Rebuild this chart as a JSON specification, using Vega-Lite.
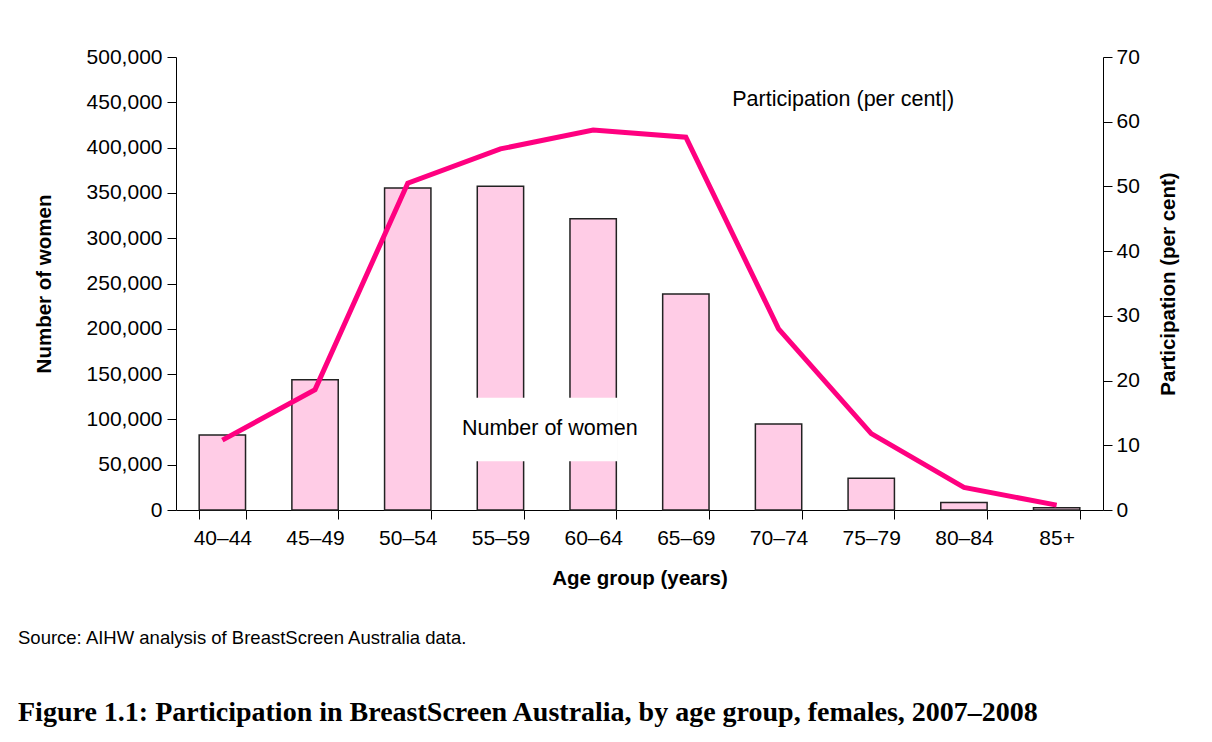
{
  "$schema": "https://vega.github.io/schema/vega-lite/v6.json",
  "width": 927,
  "height": 453,
  "autosize": {"type": "none"},
  "padding": {"left": 176, "top": 57, "right": 109, "bottom": 232},
  "background": "white",
  "config": {
    "view": {"stroke": null},
    "font": "Liberation Sans",
    "axis": {
      "domainColor": "black",
      "tickColor": "black",
      "labelColor": "black",
      "titleColor": "black",
      "labelFont": "Liberation Sans",
      "titleFont": "Liberation Sans",
      "labelFontSize": 21,
      "titleFontSize": 20.5,
      "titleFontWeight": "bold",
      "grid": false,
      "tickSize": 9
    }
  },
  "data": {
    "values": [
      {"age": "40–44", "women": 82800, "participation": 10.8},
      {"age": "45–49", "women": 143900, "participation": 18.6},
      {"age": "50–54", "women": 355400, "participation": 50.5},
      {"age": "55–59", "women": 357300, "participation": 55.8},
      {"age": "60–64", "women": 321600, "participation": 58.7},
      {"age": "65–69", "women": 238400, "participation": 57.6},
      {"age": "70–74", "women": 94900, "participation": 28.0},
      {"age": "75–79", "women": 35000, "participation": 11.8},
      {"age": "80–84", "women": 8200, "participation": 3.5},
      {"age": "85+", "women": 2600, "participation": 0.75}
    ]
  },
  "encoding": {
    "x": {
      "field": "age",
      "type": "nominal",
      "sort": null,
      "scale": {"paddingInner": 0.5, "paddingOuter": 0.25},
      "axis": {
        "title": "Age group (years)",
        "labelAngle": 0,
        "tickBand": "extent",
        "labelPadding": 8,
        "titlePadding": 20
      }
    }
  },
  "layer": [
    {
      "layer": [
        {
          "mark": {"type": "bar", "fill": "#FFCCE6", "stroke": "#222222", "strokeWidth": 1.5},
          "encoding": {
            "y": {
              "field": "women",
              "type": "quantitative",
              "scale": {"domain": [0, 500000], "nice": false},
              "axis": {
                "title": "Number of women",
                "orient": "left",
                "values": [0, 50000, 100000, 150000, 200000, 250000, 300000, 350000, 400000, 450000, 500000],
                "format": ",d",
                "labelPadding": 5,
                "titlePadding": 32
              }
            }
          }
        },
        {
          "transform": [{"filter": {"field": "age", "oneOf": ["55–59", "60–64"]}}],
          "mark": {"type": "bar", "fill": "white", "stroke": "white", "strokeWidth": 3},
          "encoding": {
            "y": {"datum": 122200, "type": "quantitative"},
            "y2": {"datum": 55600}
          }
        },
        {
          "data": {"values": [{"label": "Number of women"}]},
          "mark": {"type": "text", "fontSize": 21.5, "font": "Liberation Sans", "color": "black", "align": "center", "baseline": "middle", "dx": 3},
          "encoding": {
            "x": {"datum": "60–64", "type": "nominal", "bandPosition": -0.5},
            "y": {"datum": 89000, "type": "quantitative"},
            "text": {"field": "label"}
          }
        }
      ]
    },
    {
      "layer": [
        {
          "mark": {"type": "line", "color": "#FF0080", "strokeWidth": 5},
          "encoding": {
            "y": {
              "field": "participation",
              "type": "quantitative",
              "scale": {"domain": [0, 70], "nice": false},
              "axis": {
                "title": "Participation (per cent)",
                "orient": "right",
                "values": [0, 10, 20, 30, 40, 50, 60, 70],
                "labelPadding": 4,
                "titleAngle": 270,
                "titleBaseline": "top",
                "titlePadding": 19
              }
            }
          }
        },
        {
          "data": {"values": [{"label": "Participation (per cent|)"}]},
          "mark": {"type": "text", "fontSize": 21.5, "font": "Liberation Sans", "color": "black", "align": "left", "baseline": "middle"},
          "encoding": {
            "x": {"datum": "70–74", "type": "nominal", "bandPosition": -0.5},
            "y": {"datum": 63.3, "type": "quantitative"},
            "text": {"field": "label"}
          }
        }
      ]
    }
  ],
  "resolve": {"scale": {"y": "independent"}},
  "title": {
    "text": "Source: AIHW analysis of BreastScreen Australia data.",
    "subtitle": "Figure 1.1: Participation in BreastScreen Australia, by age group, females, 2007–2008",
    "orient": "bottom",
    "anchor": "start",
    "frame": "group",
    "dx": -158,
    "offset": 40,
    "font": "Liberation Sans",
    "fontSize": 18.5,
    "fontWeight": "normal",
    "color": "black",
    "subtitleFont": "Liberation Serif",
    "subtitleFontSize": 28,
    "subtitleFontWeight": "bold",
    "subtitleColor": "black",
    "subtitlePadding": 52
  }
}
